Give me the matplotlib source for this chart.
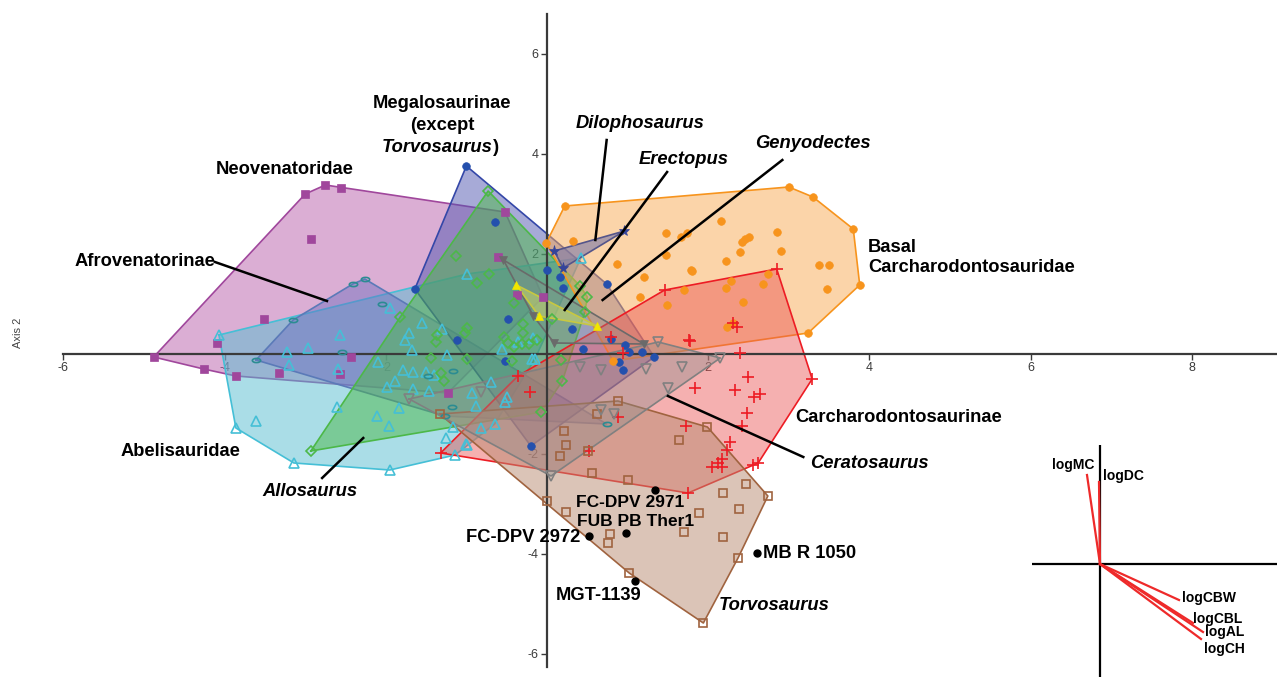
import matplotlib
matplotlib.use("Agg")
import matplotlib.pyplot as plt
from matplotlib.path import Path
from matplotlib.transforms import Affine2D

plt.rcParams["font.family"] = ["Liberation Sans", "DejaVu Sans"]
plt.rcParams["axes.unicode_minus"] = False

# ---- PCA scores (Axis 1, Axis 2) ----
neo_pts = [(-4.88, -0.06), (-4.26, -0.30), (-3.86, -0.44), (-4.09, 0.22), (-3.51, 0.70),
           (-3.00, 3.20), (-2.75, 3.38), (-2.56, 3.32), (-2.93, 2.30), (-3.33, -0.38),
           (-2.57, -0.40), (-2.43, -0.06), (-1.23, -0.78), (-0.52, 2.84), (-0.61, 1.94),
           (-0.37, 1.18), (-0.05, 1.14)]
abel_pts = [(-4.07, 0.38), (-3.86, -1.48), (-3.61, -1.34), (-3.14, -2.18), (-1.95, -2.32),
            (-1.14, -2.02), (-0.99, -1.82), (-1.25, -1.68), (-0.82, -1.48), (-0.65, -1.40),
            (-0.50, -0.86), (-0.52, -0.96), (-0.69, -0.56), (-0.93, -0.78), (-1.17, -1.46),
            (-2.60, -1.06), (-2.11, -1.24), (-1.96, -1.44), (-1.84, -1.08), (-3.23, 0.04),
            (-2.97, 0.12), (-3.20, -0.22), (-2.57, 0.38), (-2.59, -0.30), (-2.10, -0.16),
            (-1.95, 0.92), (-1.99, -0.66), (-1.89, -0.54), (-1.79, -0.32), (-1.66, -0.36),
            (-1.71, 0.42), (-1.76, 0.28), (-1.68, 0.08), (-1.55, 0.62), (-1.50, -0.36),
            (-1.40, -0.42), (-1.66, -0.70), (-1.46, -0.74), (-1.30, 0.50), (-1.24, -0.02),
            (-0.99, 1.60), (0.42, 1.92), (-0.56, 0.10), (-0.36, 0.24), (-0.17, 0.32),
            (-0.19, -0.10), (-0.88, -1.04), (-1.00, -1.80), (-0.15, -0.10)]
afro_pts = [(-3.61, -0.12), (-3.15, 0.68), (-2.41, 1.40), (-2.26, 1.50), (-2.05, 1.00),
            (-2.54, 0.04), (-1.48, -0.44), (-1.17, -0.34), (-1.18, -1.06), (-1.27, -1.24),
            (0.74, -1.40)]
mega_pts = [(-1.00, 3.76), (-0.65, 2.64), (-1.64, 1.30), (-0.48, 0.70), (-1.12, 0.28),
            (-0.52, -0.14), (-0.20, -1.84), (0.00, 1.68), (0.16, 1.54), (0.20, 1.32),
            (0.74, 1.40), (0.31, 0.50), (0.45, 0.10), (0.79, 0.30), (0.97, 0.18),
            (1.02, 0.04), (1.18, 0.04), (1.33, -0.06), (0.89, -0.16), (0.94, -0.32)]
allo_pts = [(-0.73, 3.26), (-2.93, -1.94), (-1.82, 0.74), (-1.13, 1.96), (-0.72, 1.60),
            (-0.87, 1.42), (-0.41, 1.02), (-0.99, 0.52), (-1.02, 0.42), (-1.36, 0.38),
            (-1.38, 0.24), (-1.44, -0.08), (-0.99, -0.10), (-1.32, -0.38), (-1.28, -0.54),
            (-0.07, -1.16), (0.41, 1.36), (0.50, 1.14), (0.47, 0.84), (0.06, 0.70),
            (-0.30, 0.60), (-0.30, 0.42), (-0.12, 0.28), (-0.22, 0.20), (-0.31, 0.20),
            (-0.41, 0.14), (-0.48, 0.22), (-0.53, 0.34), (0.17, -0.12), (0.19, -0.54),
            (-0.44, -0.14)]
basal_pts = [(0.22, 2.96), (3.00, 3.34), (3.30, 3.14), (3.80, 2.50), (3.88, 1.38),
             (3.24, 0.42), (0.82, -0.14), (-0.01, 2.22), (0.32, 2.26), (0.87, 1.80),
             (1.20, 1.54), (1.15, 1.14), (1.49, 0.98), (1.48, 2.42), (1.66, 2.34),
             (1.74, 2.42), (1.48, 1.98), (1.79, 1.68), (1.70, 1.28), (2.16, 2.66),
             (2.42, 2.24), (2.46, 2.30), (2.50, 2.34), (2.85, 2.44), (2.40, 2.04),
             (2.22, 1.86), (2.90, 2.06), (3.37, 1.78), (3.50, 1.78), (3.47, 1.30),
             (2.74, 1.60), (2.68, 1.40), (2.28, 1.46), (2.22, 1.32), (2.43, 1.04),
             (1.80, 1.66), (2.23, 0.54), (2.31, 0.62)]
carch_pts = [(2.85, 1.70), (3.29, -0.50), (2.62, -2.18), (2.56, -2.22), (1.46, 1.28),
             (1.76, 0.28), (0.79, 0.34), (0.94, 0.02), (2.39, 0.02), (2.31, 0.62),
             (2.36, 0.54), (2.49, -0.46), (1.84, -0.68), (2.33, -0.72), (2.57, -0.86),
             (2.64, -0.80), (2.48, -1.18), (2.42, -1.44), (1.72, -1.44), (2.27, -1.76),
             (2.23, -1.92), (2.17, -2.10), (2.12, -2.18), (2.17, -2.26), (2.05, -2.26),
             (0.88, -1.26), (0.52, -1.94), (-1.32, -1.98), (1.75, -2.78), (-0.21, -0.76),
             (-0.36, -0.44), (1.77, 0.26)]
torvo_pts = [(-1.33, -1.20), (0.88, -0.94), (1.99, -1.46), (2.74, -2.84), (1.94, -5.38),
             (1.02, -4.38), (0.00, -2.94), (0.62, -1.20), (0.21, -1.54), (0.24, -1.82),
             (0.16, -2.04), (0.51, -1.94), (0.56, -2.38), (1.00, -2.52), (1.64, -1.72),
             (0.24, -3.16), (0.78, -3.60), (0.76, -3.78), (1.89, -3.18), (1.70, -3.56),
             (2.18, -2.78), (2.47, -2.60), (2.38, -3.10), (2.18, -3.66), (2.37, -4.08)]
cerato_pts = [(2.15, -0.08), (1.38, 0.24), (1.50, -0.68), (1.67, -0.26), (1.23, -0.30),
              (0.67, -0.32), (0.67, -1.12), (0.83, -1.20), (0.05, -2.44), (0.41, -0.26),
              (-0.82, -0.76), (-1.71, -0.90)]
geny_pts = [(-0.54, 1.88), (-0.17, 0.76), (0.09, 0.22), (1.20, 0.20)]
erect_pts = [(-0.38, 1.38), (-0.10, 0.76), (0.62, 0.56)]
dilo_pts = [(0.09, 2.06), (0.96, 2.46), (0.20, 1.72)]

spec_names = ["FC-DPV 2971", "FUB PB Ther1", "FC-DPV 2972", "MB R 1050", "MGT-1139"]
spec_pts = [(1.34, -2.72), (0.98, -3.58), (0.52, -3.64), (2.61, -3.98), (1.09, -4.54)]

# variable loadings for the biplot inset
load_names = ["logMC", "logDC", "logCBW", "logCBL", "logAL", "logCH"]
load_x = [-0.13, -0.01, 0.79, 0.93, 1.03, 1.01]
load_y = [0.89, 0.82, -0.36, -0.59, -0.68, -0.75]

ELLIPSE = Path.unit_circle().transformed(Affine2D().scale(1.0, 0.5))

# name, points, marker, marker colour, hollow?, hull fill, hull edge, alpha, size
groups = [
    ("neo", neo_pts, "s", "#a0479c", False, "#b95fab", "#a0479c", 0.5, 5.5),
    ("abel", abel_pts, "^", "#45bfd6", True, "#56bdd1", "#45bfd6", 0.5, 6.5),
    ("afro", afro_pts, ELLIPSE, "#2b8c92", True, "#6a6cc0", "#5b7ab8", 0.45, 6),
    ("mega", mega_pts, "o", "#2450ad", False, "#5157b1", "#3447a8", 0.5, 5.5),
    ("allo", allo_pts, "D", "#4cb848", True, "#4cb848", "#4cb848", 0.5, 5),
    ("basal", basal_pts, "o", "#f7941d", False, "#f9aa55", "#f7941d", 0.5, 5.5),
    ("carch", carch_pts, "+", "#ed1c24", True, "#ea5050", "#ed1c24", 0.45, 8),
    ("torvo", torvo_pts, "s", "#a0633f", True, "#b98b71", "#a0633f", 0.5, 6),
    ("cerato", cerato_pts, "v", "#808080", True, "#8c8c8c", "#808080", 0.4, 6.5),
    ("geny", geny_pts, "v", "#6a6a6a", False, "#8a8a8a", "#6a6a6a", 0.35, 5.5),
    ("erect", erect_pts, "^", "#f2e600", False, "#e8e860", "#c8c840", 0.4, 6),
    ("dilo", dilo_pts, "*", "#34449a", False, "#7a78a8", "#55558a", 0.6, 8),
]


def convex_hull(pts):
    pts = sorted(set(pts))
    if len(pts) < 3:
        return pts

    def cross(o, a, b):
        return (a[0] - o[0]) * (b[1] - o[1]) - (a[1] - o[1]) * (b[0] - o[0])

    lower, upper = [], []
    for p in pts:
        while len(lower) >= 2 and cross(lower[-2], lower[-1], p) <= 0:
            lower.pop()
        lower.append(p)
    for p in reversed(pts):
        while len(upper) >= 2 and cross(upper[-2], upper[-1], p) <= 0:
            upper.pop()
        upper.append(p)
    return lower[:-1] + upper[:-1]


W, H = 1277, 677
fig = plt.figure(figsize=(W / 100, H / 100), dpi=100)
ax = fig.add_axes([0, 0, 1, 1])
ax.set_xlim(-547 / 80.6, (W - 547) / 80.6)
ax.set_ylim(-(H - 354) / 50.0, 354 / 50.0)

# hulls
for i, (name, pts, mk, mc, hollow, fc, ec, alpha, ms) in enumerate(groups):
    h = convex_hull(pts)
    hx = [p[0] for p in h] + [h[0][0]]
    hy = [p[1] for p in h] + [h[0][1]]
    ax.fill(hx, hy, color=fc, alpha=alpha, lw=0, zorder=2 + i * 0.1)
    ax.plot(hx, hy, color=ec, lw=1.2, zorder=2.05 + i * 0.1)

# points
for name, pts, mk, mc, hollow, fc, ec, alpha, ms in groups:
    px = [p[0] for p in pts]
    py = [p[1] for p in pts]
    ax.plot(px, py, ls="none", marker=mk, ms=ms,
            mfc="none" if hollow else mc, mec=mc,
            mew=1.2 if hollow else 0.5, zorder=5)

sx = [p[0] for p in spec_pts]
sy = [p[1] for p in spec_pts]
ax.plot(sx, sy, ls="none", marker="o", ms=5, color="black", zorder=6)

lab = dict(fontsize=13.2, fontweight="bold", zorder=7)
spec_offsets = [(1.03, -2.97, "center", 12.5), (1.10, -3.35, "center", 12.5),
                (0.41, -3.68, "right", 13.2), (2.68, -3.98, "left", 13.2),
                (0.64, -4.82, "center", 13.2)]
for name, (tx, ty, ha, fs) in zip(spec_names, spec_offsets):
    ax.text(tx, ty, name, ha=ha, va="center", fontsize=fs, fontweight="bold", zorder=7)

# group labels
ax.text(-3.25, 3.68, "Neovenatoridae", ha="center", va="center", **lab)
ax.text(-4.99, 1.86, "Afrovenatorinae", ha="center", va="center", **lab)
ax.text(-4.55, -1.96, "Abelisauridae", ha="center", va="center", **lab)
ax.text(-2.94, -2.76, "Allosaurus", ha="center", va="center", style="italic", **lab)
ax.text(-1.30, 5.02, "Megalosaurinae", ha="center", va="center", **lab)
ax.text(-1.30, 4.58, "(except", ha="center", va="center", **lab)
ax.text(-0.67, 4.14, "Torvosaurus", ha="right", va="center", style="italic", **lab)
ax.text(-0.67, 4.14, ")", ha="left", va="center", **lab)
ax.text(1.15, 4.60, "Dilophosaurus", ha="center", va="center", style="italic", **lab)
ax.text(1.70, 3.88, "Erectopus", ha="center", va="center", style="italic", **lab)
ax.text(3.30, 4.20, "Genyodectes", ha="center", va="center", style="italic", **lab)
ax.text(3.98, 2.14, "Basal", ha="left", va="center", **lab)
ax.text(3.98, 1.72, "Carcharodontosauridae", ha="left", va="center", **lab)
ax.text(3.08, -1.28, "Carcharodontosaurinae", ha="left", va="center", **lab)
ax.text(3.26, -2.18, "Ceratosaurus", ha="left", va="center", style="italic", **lab)
ax.text(2.13, -5.02, "Torvosaurus", ha="left", va="center", style="italic", **lab)

leaders = [((-4.12, 1.84), (-2.73, 1.06)),
           ((-2.79, -2.48), (-2.28, -1.68)),
           ((0.74, 4.28), (0.60, 2.28)),
           ((1.49, 3.64), (0.22, 0.88)),
           ((2.92, 3.88), (0.69, 1.08)),
           ((3.18, -2.06), (1.50, -0.84))]
for (x1, y1), (x2, y2) in leaders:
    ax.plot([x1, x2], [y1, y2], color="black", lw=1.8, zorder=7)

# axes through the origin
for side in ("top", "right"):
    ax.spines[side].set_visible(False)
for side in ("left", "bottom"):
    ax.spines[side].set_position(("data", 0))
    ax.spines[side].set_color("#3a3a3a")
    ax.spines[side].set_linewidth(1.6)
    ax.spines[side].set_zorder(4)
ax.spines["bottom"].set_bounds(-6, ax.get_xlim()[1])
ax.spines["left"].set_bounds(ax.get_ylim()[0] + 0.2, 6.8)
ax.set_xticks([-6, -4, -2, 2, 4, 6, 8])
ax.set_yticks([-6, -4, -2, 2, 4, 6])
ax.tick_params(direction="out", length=4, width=1, colors="#3a3a3a", labelsize=9, pad=2)
ax.patch.set_alpha(0)
fig.text(18 / W, 1 - 333 / H, "Axis 2", rotation=90, ha="center", va="center",
         fontsize=8, color="#444444")

# biplot inset
ins = fig.add_axes([1032 / W, 0, (W - 1032) / W, (H - 445) / H])
ins.set_xlim(-0.68, 1.77)
ins.set_ylim(-1.13, 1.19)
ins.axis("off")
ins.axhline(0, color="black", lw=1.6)
ins.axvline(0, color="black", lw=1.6)
for lx, ly in zip(load_x, load_y):
    ins.plot([0, lx], [0, ly], color="#ee2a2a", lw=1.6)
load_text = [(-0.48, 0.99, "left"), (0.03, 0.88, "left"), (0.82, -0.34, "left"),
             (0.93, -0.55, "left"), (1.05, -0.68, "left"), (1.04, -0.85, "left")]
for name, (tx, ty, ha) in zip(load_names, load_text):
    ins.text(tx, ty, name, ha=ha, va="center", fontsize=10, fontweight="bold")

fig.savefig("out.png", dpi=100)
